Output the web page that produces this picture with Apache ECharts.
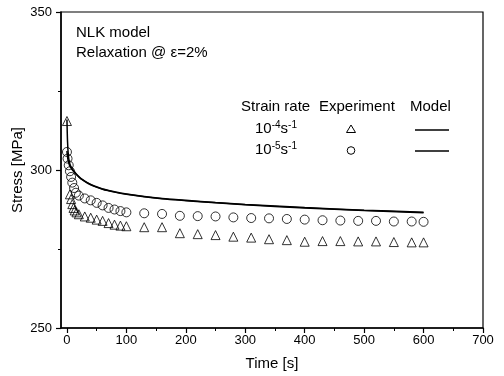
<!DOCTYPE html>
<html><head><meta charset="utf-8">
<script src="https://cdn.jsdelivr.net/npm/echarts@6/dist/echarts.min.js"></script>
<style>html,body{margin:0;padding:0;background:#fff}#c{width:504px;height:376px}</style>
</head><body><div id="c"></div>
<script>
// Experiment, strain rate 1e-4 s^-1 (triangles)
const expTime4 = [0, 5, 7, 9, 11, 13, 16, 20, 30, 40, 50, 60, 70, 80, 90, 100, 130, 160, 190, 220, 250, 280, 310, 340, 370, 400, 430, 460, 490, 520, 550, 580, 600];
const expStress4 = [315.5, 292.3, 290.8, 289.2, 288.0, 287.2, 286.6, 286.0, 285.3, 284.9, 284.3, 283.9, 283.2, 282.7, 282.4, 282.2, 281.9, 281.9, 280.0, 279.7, 279.4, 278.9, 278.6, 278.1, 277.8, 277.3, 277.5, 277.5, 277.4, 277.4, 277.2, 277.1, 277.1];
// Experiment, strain rate 1e-5 s^-1 (circles)
const expTime5 = [0, 1, 3, 5, 7, 9, 12, 15, 20, 30, 40, 50, 60, 70, 80, 90, 100, 130, 160, 190, 220, 250, 280, 310, 340, 370, 400, 430, 460, 490, 520, 550, 580, 600];
const expStress5 = [305.7, 303.6, 301.5, 299.6, 297.8, 296.0, 294.3, 292.8, 291.9, 291.0, 290.4, 289.6, 288.8, 288.0, 287.5, 287.0, 286.6, 286.3, 286.1, 285.5, 285.4, 285.3, 285.0, 284.8, 284.7, 284.5, 284.3, 284.1, 284.0, 283.9, 283.9, 283.7, 283.7, 283.6];
// Model curves
const modelTime = [0, 0.5, 1, 2, 3, 5, 8, 12, 15, 20, 25, 35, 45, 60, 80, 100, 130, 160, 200, 250, 300, 400, 500, 600];
const modelStress4 = [316.0, 312.0, 309.0, 305.5, 303.6, 301.8, 300.6, 299.6, 298.9, 297.9, 297.1, 295.9, 295.0, 294.0, 293.1, 292.4, 291.6, 291.0, 290.4, 289.7, 289.1, 288.1, 287.3, 286.6];
const modelStress5 = [306.0, 305.0, 304.2, 303.0, 302.3, 301.2, 300.3, 299.4, 298.7, 297.8, 297.0, 295.8, 294.9, 293.9, 293.0, 292.3, 291.5, 290.9, 290.3, 289.6, 289.0, 288.0, 287.2, 286.5];
// Tick values
const xMajorTicks = [0, 100, 200, 300, 400, 500, 600, 700];
const xMinorTicks = [50, 150, 250, 350, 450, 550, 650];

const zip = (a, b) => a.map((v, i) => [v, b[i]]);
const FONT = '"Liberation Sans", Arial, sans-serif';
const chart = echarts.init(document.getElementById('c'), null, {renderer: 'canvas'});

const sup = {fontSize: 10, fontFamily: FONT, color: '#000', verticalAlign: 'top', lineHeight: 10};
const nrm = {fontSize: 15, fontFamily: FONT, color: '#000', lineHeight: 17};

chart.setOption({
  animation: false,
  backgroundColor: '#fff',
  grid: {left: 61, right: 21, top: 12, bottom: 48, show: true, borderColor: '#000', borderWidth: 1.2, containLabel: false},
  xAxis: [{
    type: 'value', min: -10, max: 700, position: 'bottom',
    axisLine: {show: true, onZero: false, lineStyle: {color: '#000', width: 1.5}},
    axisTick: {show: true, inside: false, length: 5, customValues: xMajorTicks, lineStyle: {color: '#000', width: 1.2}},
    axisLabel: {customValues: xMajorTicks, color: '#000', fontSize: 13, fontFamily: FONT, margin: 6},
    splitLine: {show: false}
  }, {
    type: 'value', min: -10, max: 700, position: 'bottom',
    axisLine: {show: false, onZero: false},
    axisTick: {show: true, inside: false, length: 3, customValues: xMinorTicks, lineStyle: {color: '#000', width: 1}},
    axisLabel: {show: false},
    splitLine: {show: false}
  }],
  yAxis: {
    type: 'value', min: 250, max: 350, interval: 50,
    axisLine: {show: true, onZero: false, lineStyle: {color: '#000', width: 1.5}},
    axisTick: {show: true, inside: false, length: 5, lineStyle: {color: '#000', width: 1.2}},
    minorTick: {show: true, splitNumber: 2, length: 3, lineStyle: {color: '#000', width: 1}},
    axisLabel: {color: '#000', fontSize: 13, fontFamily: FONT, margin: 9},
    splitLine: {show: false}
  },
  series: [
    {type: 'line', name: 'Model 1e-4', data: zip(modelTime, modelStress4), showSymbol: false, smooth: 0.3,
     lineStyle: {color: '#000', width: 1.5}, z: 2},
    {type: 'line', name: 'Model 1e-5', data: zip(modelTime, modelStress5), showSymbol: false, smooth: 0.3,
     lineStyle: {color: '#000', width: 1.5}, z: 2},
    {type: 'scatter', name: 'Exp 1e-4', data: zip(expTime4, expStress4), symbol: 'triangle', symbolSize: 9,
     itemStyle: {color: 'rgba(0,0,0,0)', borderColor: '#000', borderWidth: 1}, z: 3},
    {type: 'scatter', name: 'Exp 1e-5', data: zip(expTime5, expStress5), symbol: 'circle', symbolSize: 9,
     itemStyle: {color: 'rgba(0,0,0,0)', borderColor: '#000', borderWidth: 1}, z: 3}
  ],
  graphic: [
    {type: 'text', x: 76, y: 33, style: {text: 'NLK model', fontSize: 15, fontFamily: FONT, fill: '#000', verticalAlign: 'middle'}},
    {type: 'text', x: 76, y: 53, style: {text: 'Relaxation @ \u03b5=2%', fontSize: 15, fontFamily: FONT, fill: '#000', verticalAlign: 'middle'}},
    {type: 'text', x: 241, y: 107, style: {text: 'Strain rate', fontSize: 15, fontFamily: FONT, fill: '#000', verticalAlign: 'middle'}},
    {type: 'text', x: 319, y: 107, style: {text: 'Experiment', fontSize: 15, fontFamily: FONT, fill: '#000', verticalAlign: 'middle'}},
    {type: 'text', x: 410, y: 107, style: {text: 'Model', fontSize: 15, fontFamily: FONT, fill: '#000', verticalAlign: 'middle'}},
    {type: 'text', x: 255, y: 129, style: {text: '{n|10}{s|-4}{n|s}{s|-1}', rich: {n: nrm, s: sup}, verticalAlign: 'middle'}},
    {type: 'text', x: 255, y: 150, style: {text: '{n|10}{s|-5}{n|s}{s|-1}', rich: {n: nrm, s: sup}, verticalAlign: 'middle'}},
    {type: 'polygon', shape: {points: [[351, 125], [355.5, 132.5], [346.5, 132.5]]}, style: {fill: 'none', stroke: '#000', lineWidth: 1}},
    {type: 'circle', shape: {cx: 351, cy: 150.5, r: 3.8}, style: {fill: 'none', stroke: '#000', lineWidth: 1}},
    {type: 'line', shape: {x1: 415, y1: 130, x2: 449, y2: 130}, style: {stroke: '#000', lineWidth: 1.5}},
    {type: 'line', shape: {x1: 415, y1: 151, x2: 449, y2: 151}, style: {stroke: '#000', lineWidth: 1.5}},
    {type: 'text', x: 18, y: 170, rotation: Math.PI / 2, style: {text: 'Stress [MPa]', fontSize: 15, fontFamily: FONT, fill: '#000', align: 'center', verticalAlign: 'middle'}},
    {type: 'text', x: 272, y: 364, style: {text: 'Time [s]', fontSize: 15, fontFamily: FONT, fill: '#000', align: 'center', verticalAlign: 'middle'}}
  ]
});
</script>
</body></html>
